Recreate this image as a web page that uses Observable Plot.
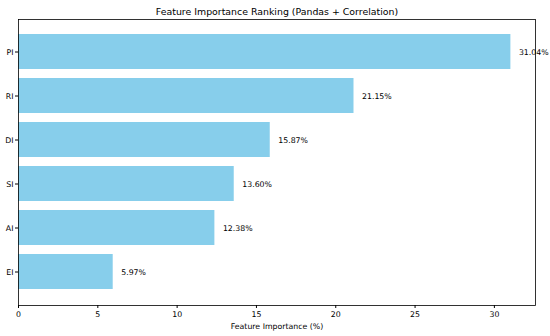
<!DOCTYPE html>
<html>
<head>
<meta charset="utf-8">
<script src="https://cdn.jsdelivr.net/npm/d3@7"></script>
<script src="https://cdn.jsdelivr.net/npm/@observablehq/plot@0.6"></script>
<style>
  html, body { margin: 0; padding: 0; background: #fff; }
</style>
</head>
<body>
<div id="chart"></div>
<script>
const features = ["PI", "RI", "DI", "SI", "AI", "EI"];
const importance = [31.04, 21.15, 15.87, 13.60, 12.38, 5.97];
const xTicks = [0, 5, 10, 15, 20, 25, 30];
const title = "Feature Importance Ranking (Pandas + Correlation)";
const xLabel = "Feature Importance (%)";

const data = features.map((f, i) => ({feature: f, value: importance[i]}));
const xMax = d3.max(importance) * 1.05;

const chart = Plot.plot({
  width: 550,
  height: 336,
  marginLeft: 18,
  marginRight: 15,
  marginTop: 19,
  marginBottom: 31,
  style: {fontFamily: "DejaVu Sans", fontSize: "7.8px", color: "#000", background: "#fff"},
  x: {domain: [0, xMax]},
  y: {domain: features, paddingInner: 0.2, paddingOuter: 0.29},
  marks: [
    Plot.barX(data, {x: "value", y: "feature", fill: "#87CEEB"}),
    Plot.text(data, {x: "value", y: "feature", text: d => d.value.toFixed(2) + "%", textAnchor: "start", dx: 8, fill: "#000", fontSize: 7.8}),
    Plot.frame({stroke: "#000", strokeWidth: 0.8}),
    Plot.axisX({ticks: xTicks, tickSize: 3, tickPadding: 3, tickFormat: d => String(d), label: xLabel, labelAnchor: "center", labelArrow: "none", labelOffset: 23, fontSize: 7.8}),
    Plot.axisY({tickSize: 3, tickPadding: 2, label: null, fontSize: 7.8}),
    Plot.text([title], {frameAnchor: "top", dy: -11, fontSize: 9.4, fill: "#000"})
  ]
});
document.getElementById("chart").appendChild(chart);
</script>
</body>
</html>
